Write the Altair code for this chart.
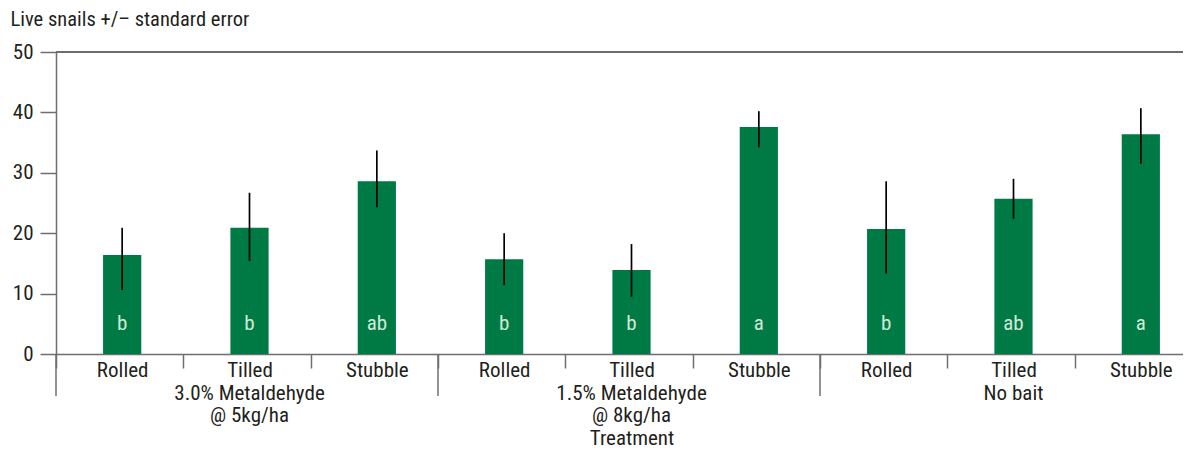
import altair as alt
import pandas as pd

# ---- data ----
groups = ["3.0% Metaldehyde\n@ 5kg/ha", "1.5% Metaldehyde\n@ 8kg/ha", "No bait"]
surfaces = ["Rolled", "Tilled", "Stubble"]
means = [16.4, 20.9, 28.6, 15.7, 13.9, 37.6, 20.7, 25.7, 36.4]
lows = [10.6, 15.4, 24.3, 11.4, 9.5, 34.2, 13.3, 22.4, 31.5]
highs = [20.9, 26.7, 33.7, 20.0, 18.2, 40.2, 28.6, 29.0, 40.7]
letters = ["b", "b", "ab", "b", "b", "a", "b", "ab", "a"]

keys = [f"{g}|{s}" for g in range(len(groups)) for s in surfaces]

df = pd.DataFrame({
    "key": keys,
    "mean": means,
    "lo": lows,
    "hi": highs,
    "letter": letters,
})
grp_df = pd.DataFrame({"key": [f"{g}|Tilled" for g in range(len(groups))], "label": groups})
sep_df = pd.DataFrame({"key": [f"{g}|Rolled" for g in range(len(groups))]})

VIEW_W, H = 1127, 302      # visible plot area
RANGE_W = 1146             # x range runs past the right edge, as in the reference
GREEN = "#007a45"
GRAY = "#6d6e71"
TXT = "#231f20"
FONT = "Liberation Sans Narrow, Roboto Condensed, Roboto"
FS = 21
OFF = 2.5

xscale = alt.Scale(paddingInner=0, paddingOuter=0, range=[0, RANGE_W])
x_axis = alt.Axis(
    title="Treatment", labelExpr="split(datum.label, '|')[1]", labelAngle=0,
    tickBand="extent", tickSize=14, tickColor=GRAY, tickWidth=1.5,
    domainColor=GRAY, domainWidth=1.5, labelPadding=-9, labelOffset=OFF,
    labelFontSize=FS, labelColor=TXT, titleFontSize=FS, titleFontWeight="normal",
    titleColor=TXT, titleY=90, titleBaseline="alphabetic", titleX=(RANGE_W / 2) + OFF,
    labelFont=FONT, titleFont=FONT,
)
y_axis = alt.Axis(
    title="Live snails +/\u2013 standard error", titleAngle=0, titleAlign="left",
    titleBaseline="middle", titleX=-46, titleY=-33, titleFontSize=20.5,
    titleFontWeight="normal", titleColor=TXT, titleFont=FONT, labelFont=FONT,
    values=[0, 10, 20, 30, 40, 50], tickSize=16, tickColor=GRAY, tickWidth=1.5,
    domainColor=GRAY, domainWidth=1.5, labelFontSize=FS, labelColor=TXT,
    labelPadding=7, grid=False,
)

base = alt.Chart(df)
bars = base.mark_bar(width=alt.RelativeBandSize(0.3), color=GREEN, xOffset=OFF).encode(
    x=alt.X("key:N", sort=keys, scale=xscale, axis=x_axis),
    y=alt.Y("mean:Q", scale=alt.Scale(domain=[0, 50], nice=False), axis=y_axis),
)
errs = base.mark_rule(color="black", strokeWidth=1.7, xOffset=OFF).encode(
    x=alt.X("key:N", sort=keys),
    y="lo:Q",
    y2="hi:Q",
)
lett = base.mark_text(color="#cfe8d8", fontSize=FS, baseline="middle", font=FONT,
                      xOffset=OFF).encode(
    x=alt.X("key:N", sort=keys),
    y=alt.value(H - 30),
    text="letter:N",
)
grp = alt.Chart(grp_df).mark_text(
    fontSize=FS, baseline="alphabetic", lineBreak="\n", lineHeight=22, color=TXT,
    font=FONT, xOffset=OFF,
).encode(
    x=alt.X("key:N", sort=keys),
    y=alt.value(H + 46),
    text="label:N",
)
seps = alt.Chart(sep_df).mark_rule(color=GRAY, strokeWidth=1.5).encode(
    x=alt.X("key:N", sort=keys, bandPosition=0),
    y=alt.value(H),
    y2=alt.value(H + 42),
)
top = alt.Chart(df).mark_rule(color=GRAY, strokeWidth=1.5).encode(
    y=alt.datum(50),
    x=alt.value(0),
    x2=alt.value(RANGE_W),
)

chart = alt.layer(bars, errs, lett, grp, seps, top).properties(
    width=VIEW_W, height=H,
    autosize=alt.AutoSizeParams(type="none"),
    padding={"left": 48, "right": 0, "top": 44, "bottom": 95},
).configure_view(stroke=None).configure(font=FONT)

chart.save("out.html", embed_options={"renderer": "svg", "actions": False})
